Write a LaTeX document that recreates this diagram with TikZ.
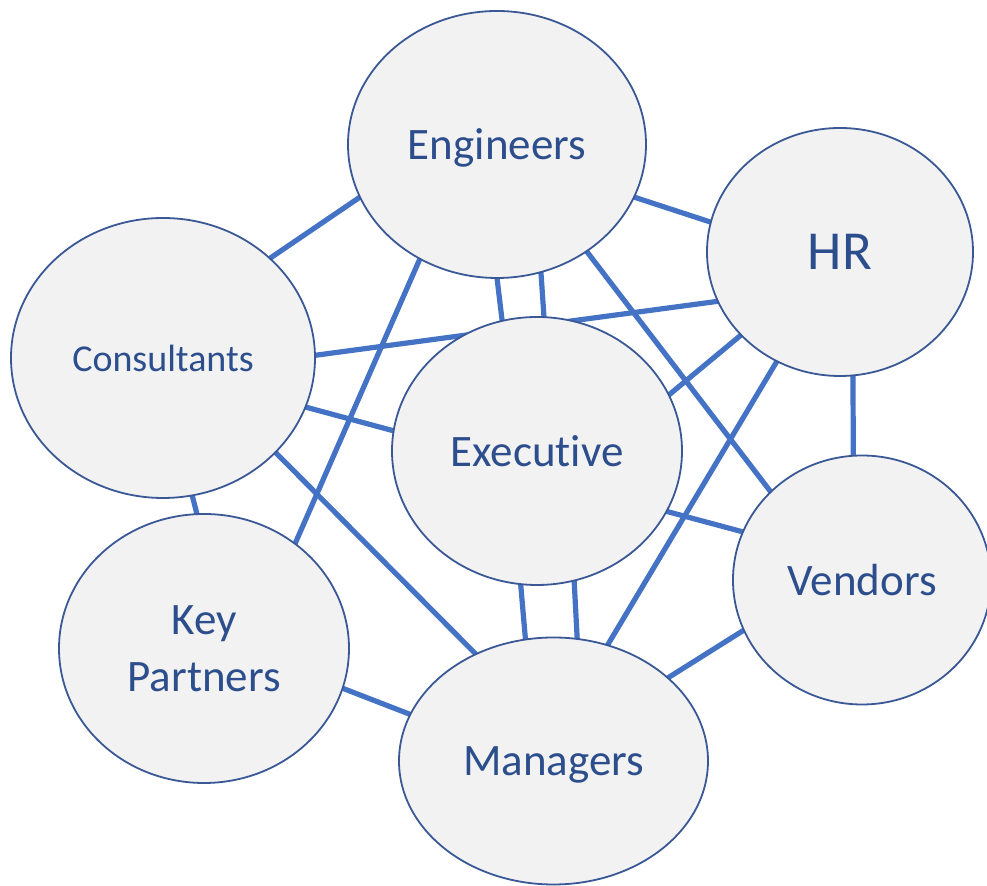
\documentclass[tikz,border=0pt]{standalone}
\usepackage{fontspec}
\setmainfont{Carlito}[Ligatures=NoCommon]
\usetikzlibrary{shapes.geometric}
\usetikzlibrary{backgrounds}
\definecolor{linkblue}{HTML}{4472C4}
\definecolor{rimblue}{HTML}{3A5896}
\definecolor{textblue}{HTML}{2C4E8C}
\definecolor{bubblegray}{HTML}{F2F2F2}

\begin{document}
\begin{tikzpicture}[x=0.5pt,y=-0.5pt,
        bubble/.style={ellipse, draw=rimblue, line width=0.9pt, fill=bubblegray, text=textblue,
            inner sep=0pt, outer sep=0pt, text depth=0pt, align=center,
            font=\fontsize{22.5}{28.5}\selectfont},
        link/.style={draw=linkblue, line width=2.6pt}]
    \useasboundingbox (0,0) rectangle (987,886);
    \node[bubble, minimum width=149pt, minimum height=133.5pt] (engineers) at (497,144.5) {Engineers};
    \node[bubble, minimum width=133pt, minimum height=124pt, font=\fontsize{27.5}{33}\selectfont] (hr) at (840,252) {HR};
    \node[bubble, minimum width=152pt, minimum height=140pt, font=\fontsize{19}{23}\selectfont] (consultants) at (163,358) {Consultants};
    \node[bubble, minimum width=145pt, minimum height=134pt] (executive) at (537,451) {Executive};
    \node[bubble, minimum width=129pt, minimum height=124.5pt] (vendors) at (862,580) {Vendors};
    \node[bubble, minimum width=145pt, minimum height=134.5pt] (partners) at (204,648.5) {Key\\Partners};
    \node[bubble, minimum width=154.5pt, minimum height=123.5pt] (managers) at (553.5,761) {Managers};
    \begin{pgfonlayer}{background}
        \draw[link] (engineers.201.3) -- (consultants.43.3);
        \draw[link] (engineers.-21.5) -- (hr.167);
        \draw[link] (engineers.-90) -- (executive.105.5);
        \draw[link] (engineers.-71.5) -- (executive.87.9);
        \draw[link] (engineers.-50) -- (vendors.136.6);
        \draw[link] (engineers.236.3) -- (partners.49.5);
        \draw[link] (consultants.1.1) -- (hr.202.3);
        \draw[link] (consultants.-19.4) -- (executive.172.9);
        \draw[link] (consultants.-40.8) -- (managers.126);
        \draw[link] (consultants.-78.2) -- (partners.93.8);
        \draw[link] (executive.23.6) -- (hr.220.4);
        \draw[link] (executive.-25) -- (vendors.158.6);
        \draw[link] (executive.-97.2) -- (managers.103.5);
        \draw[link] (executive.-74.7) -- (managers.79.2);
        \draw[link] (hr.-84) -- (vendors.94.2);
        \draw[link] (hr.240.2) -- (managers.65.2);
        \draw[link] (vendors.203.6) -- (managers.36.3);
        \draw[link] (partners.-16.6) -- (managers.162.2);
    \end{pgfonlayer}
\end{tikzpicture}
\end{document}
